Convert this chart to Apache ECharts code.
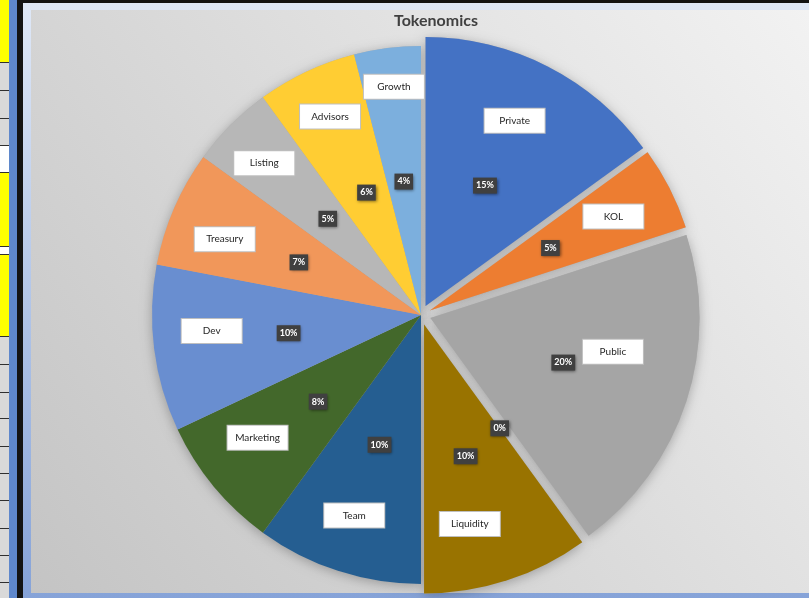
<!DOCTYPE html>
<html>
<head>
<meta charset="utf-8">
<title>Tokenomics</title>
<script src="https://cdn.jsdelivr.net/npm/echarts@6/dist/echarts.min.js"></script>
<style>
html, body { margin: 0; padding: 0; background: #141414; }
#main { width: 809px; height: 598px; }
</style>
</head>
<body>
<div id="main"></div>
<script>
// tokenomics split (percent of supply)
var categories = ['Private', 'KOL', 'Public', '', 'Liquidity', 'Team', 'Marketing', 'Dev', 'Treasury', 'Listing', 'Advisors', 'Growth'];
var values = [15, 5, 20, 0, 10, 10, 8, 10, 7, 5, 6, 4];
var exploded = [true, true, true, true, true, false, false, false, false, false, false, false];
var colors = ['#4472C4', '#ED7D31', '#A5A5A5', '#FFC000', '#997300', '#255E91', '#43682B', '#698ED0', '#F1975A', '#B7B7B7', '#FFCD33', '#7CAFDD'];
// name boxes were dragged by hand in the original, nudge them back
var nameNudge = [[-9, 7], [-9, 4], [-23, -33], [0, 0], [-21, -6], [0, -5], [3, -15], [5, -11], [2, 10], [-4, 1], [1, -3], [0, -14]];
var pctNudge = [[-3, 2], [-2, 0], [2, 2], [-8, -6], [-1, 1], [1, -1], [3, -1], [4, 1], [4, 2], [4, 1], [4, 2], [0, 3]];

var CENTER = [421, 315];
var R = 269;

function makeData(kind) {
    var out = [];
    for (var i = 0; i < values.length; i++) {
        var c = kind == 'shadow' ? '#b0b0b0' : kind == 'names' ? 'rgba(0,0,0,0)' : colors[i];
        var item = {
            name: categories[i],
            value: values[i],
            selected: exploded[i],
            itemStyle: { color: c },
            select: { itemStyle: { color: c, borderWidth: 0 } }
        };
        var lab = null;
        if (kind == 'names') {
            lab = categories[i] === '' ? { show: false } : { offset: nameNudge[i] };
        } else if (kind == 'main') {
            lab = { offset: pctNudge[i] };
        }
        if (lab) {
            item.label = lab;
            item.select.label = lab;
        }
        out.push(item);
    }
    return out;
}

var base = {
    type: 'pie',
    center: CENTER,
    startAngle: 90,
    clockwise: true,
    selectedMode: 'multiple',
    selectedOffset: 10,
    animation: false,
    emphasis: { disabled: true },
    labelLine: { show: false }
};

// cell strip on the far left (spreadsheet behind the chart)
var cellFills = [
    [0, 62, '#ffff00'], [62, 84, '#d9d9d9'], [146, 26, '#ffffff'],
    [172, 74, '#ffff00'], [246, 8, '#ffffff'], [254, 82, '#ffff00'],
    [336, 262, '#d9d9d9']
];
var cellLines = [62, 90, 118, 145, 172, 246, 254, 336, 364, 392, 418, 446, 473, 500, 528, 555, 582];

var graphics = [];
cellFills.forEach(function (f) {
    graphics.push({ type: 'rect', z: -10, shape: { x: 0, y: f[0], width: 9, height: f[1] }, style: { fill: f[2] } });
});
cellLines.forEach(function (y) {
    graphics.push({ type: 'rect', z: -9, shape: { x: 0, y: y, width: 9, height: 1 }, style: { fill: '#303030' } });
});
graphics.push({ type: 'rect', z: -10, shape: { x: 9, y: 0, width: 8, height: 598 }, style: { fill: '#5f88cc' } });
graphics.push({
    type: 'rect', z: -10, shape: { x: 23, y: 3, width: 786, height: 595 },
    style: { fill: new echarts.graphic.LinearGradient(0, 0, 0, 1, [{ offset: 0, color: '#dfe8f7' }, { offset: 1, color: '#86a3d8' }]) }
});
graphics.push({
    type: 'rect', z: -9, shape: { x: 31, y: 10, width: 778, height: 583 },
    style: { fill: new echarts.graphic.LinearGradient(1, 0, 0, 1, [{ offset: 0, color: '#f2f2f2' }, { offset: 1, color: '#c4c4c4' }]) }
});

var chart = echarts.init(document.getElementById('main'));
chart.setOption({
    backgroundColor: '#141414',
    animation: false,
    graphic: graphics,
    title: {
        text: 'Tokenomics',
        left: 389,
        top: 8,
        textStyle: { fontFamily: 'Lato', fontSize: 16, fontWeight: 'bold', color: '#404040' }
    },
    series: [
        Object.assign({}, base, {
            name: 'shadow',
            z: 1,
            silent: true,
            radius: [0, R],
            data: makeData('shadow'),
            label: { show: false },
            itemStyle: { shadowBlur: 12, shadowColor: 'rgba(0,0,0,0.28)', shadowOffsetY: 2 }
        }),
        Object.assign({}, base, {
            name: 'share',
            z: 2,
            radius: [0, R],
            data: makeData('main'),
            label: {
                show: true,
                position: 'inside',
                formatter: function (p) { return Math.round(p.percent) + '%'; },
                fontFamily: 'Lato',
                fontSize: 9,
                fontWeight: 'bold',
                color: '#ffffff',
                backgroundColor: '#404040',
                padding: [4, 3, 3, 3],
                shadowBlur: 3,
                shadowColor: 'rgba(0,0,0,0.5)',
                shadowOffsetX: 1,
                shadowOffsetY: 1
            }
        }),
        Object.assign({}, base, {
            name: 'names',
            z: 3,
            silent: true,
            radius: [157, R],
            data: makeData('names'),
            label: {
                show: true,
                position: 'inside',
                formatter: '{b}',
                fontFamily: 'Lato',
                fontSize: 10,
                color: '#262626',
                backgroundColor: '#ffffff',
                borderColor: '#bfbfbf',
                borderWidth: 1,
                width: 60,
                height: 24,
                lineHeight: 24,
                align: 'center'
            }
        })
    ]
});
</script>
</body>
</html>
